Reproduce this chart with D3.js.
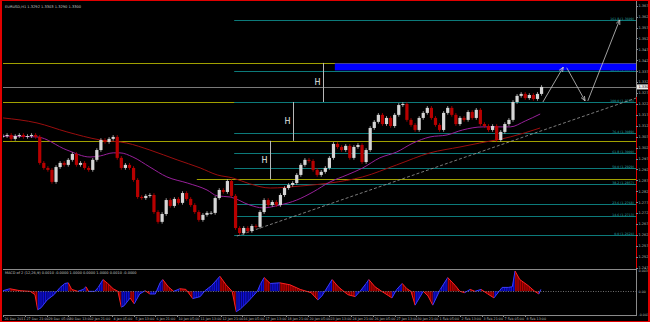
<!DOCTYPE html>
<html>
<head>
<meta charset="utf-8">
<script src="https://d3js.org/d3.v7.min.js"></script>
<style>
html, body { margin: 0; padding: 0; background: #000; }
svg { display: block; }
text { font-family: "DejaVu Sans", sans-serif; }
</style>
</head>
<body>
<svg id="chart" width="650" height="322"></svg>
<script>
// EURUSD H1 - closes read every 6 bars from 26 Dec 2011
const closeStep = 6;
const closes = [
	1.3077, 1.3082, 1.3064, 1.3077, 1.3082, 1.3073, 1.3077, 1.3082, 1.3073, 1.2954,
	1.2931, 1.2922, 1.2867, 1.2935, 1.2954, 1.2945, 1.2968, 1.2995, 1.2945, 1.2954,
	1.2931, 1.2922, 1.2968, 1.3013, 1.3059, 1.3050, 1.3064, 1.3073, 1.2977, 1.2931,
	1.2945, 1.2931, 1.2876, 1.2798, 1.2793, 1.2803, 1.2807, 1.2729, 1.2684, 1.2720,
	1.2784, 1.2757, 1.2789, 1.2771, 1.2816, 1.2789, 1.2761, 1.2729, 1.2693, 1.2716,
	1.2725, 1.2725, 1.2793, 1.2830, 1.2821, 1.2871, 1.2803, 1.2656, 1.2633, 1.2656,
	1.2642, 1.2665, 1.2661, 1.2729, 1.2784, 1.2761, 1.2775, 1.2761, 1.2807, 1.2839,
	1.2853, 1.2862, 1.2899, 1.2945, 1.2968, 1.2963, 1.2922, 1.2899, 1.2913, 1.2931,
	1.2977, 1.3041, 1.3027, 1.3013, 1.3032, 1.2977, 1.3027, 1.3036, 1.2958, 1.3013,
	1.3114, 1.3142, 1.3174, 1.3132, 1.3160, 1.3123, 1.3174, 1.3219, 1.3224, 1.3151,
	1.3128, 1.3105, 1.3160, 1.3183, 1.3206, 1.3160, 1.3128, 1.3105, 1.3183, 1.3206,
	1.3174, 1.3132, 1.3160, 1.3151, 1.3187, 1.3160, 1.3197, 1.3132, 1.3123, 1.3105,
	1.3123, 1.3059, 1.3096, 1.3132, 1.3151, 1.3233, 1.3261, 1.3270, 1.3251, 1.3265,
	1.3247, 1.3270, 1.3302
];

// moving averages (bar index, price)
const maFastBars = [0, 50, 94, 128, 143, 162, 172, 191, 216, 241, 271, 300, 315, 334, 363, 382, 407, 432, 456, 481, 506, 529, 554, 579, 603, 628, 653, 676, 706, 746, 768, 790];
const maFast = [1.3077, 1.3073, 1.3013, 1.2981, 1.2986, 1.3000, 1.3000, 1.2981, 1.2935, 1.2890, 1.2862, 1.2830, 1.2803, 1.2798, 1.2761, 1.2748, 1.2761, 1.2784, 1.2821, 1.2867, 1.2899, 1.2931, 1.2977, 1.3004, 1.3045, 1.3073, 1.3082, 1.3105, 1.3119, 1.3119, 1.3146, 1.3178];
const maSlowBars = [0, 50, 94, 143, 182, 216, 256, 290, 315, 338, 363, 393, 437, 481, 529, 579, 628, 672, 701, 746, 790];
const maSlow = [1.3160, 1.3137, 1.3096, 1.3059, 1.3045, 1.3013, 1.2968, 1.2931, 1.2899, 1.2885, 1.2858, 1.2839, 1.2848, 1.2862, 1.2890, 1.2945, 1.3000, 1.3027, 1.3045, 1.3073, 1.3114];

// MACD (bar index, value)
const macdBars = [0, 10, 25, 40, 47, 51, 56, 65, 75, 84, 91, 96, 101, 110, 118, 122, 126, 135, 140, 147, 154, 162, 169, 174, 178, 187, 193, 201, 209, 216, 224, 231, 235, 243, 251, 260, 269, 279, 290, 297, 307, 319, 328, 337, 343, 349, 360, 374, 379, 384, 393, 407, 422, 437, 453, 463, 469, 484, 493, 507, 518, 525, 534, 538, 547, 557, 572, 579, 587, 594, 600, 606, 618, 625, 632, 643, 654, 665, 672, 679, 687, 694, 703, 713, 722, 734, 743, 749, 753, 760, 772, 782, 788, 791];
const macdValues = [0.0001, 0.0004, 0.0001, 0.0000, -0.0005, -0.0028, -0.0025, -0.0013, -0.0005, 0.0006, 0.0012, 0.0013, 0.0003, 0.0000, 0.0003, 0.0007, 0.0000, 0.0000, 0.0006, 0.0018, 0.0012, 0.0004, 0.0000, -0.0024, -0.0022, -0.0010, -0.0019, -0.0004, 0.0001, -0.0004, -0.0004, 0.0013, 0.0018, 0.0007, 0.0000, 0.0004, 0.0003, -0.0011, -0.0008, 0.0001, 0.0009, 0.0023, 0.0010, 0.0000, -0.0031, -0.0027, -0.0016, 0.0000, 0.0012, 0.0021, 0.0012, 0.0013, 0.0010, 0.0003, -0.0002, -0.0013, -0.0007, 0.0018, 0.0007, -0.0005, -0.0008, 0.0000, 0.0012, 0.0018, 0.0007, 0.0000, -0.0010, 0.0003, 0.0012, 0.0004, 0.0000, -0.0021, 0.0000, -0.0007, -0.0021, 0.0003, 0.0021, 0.0009, 0.0000, -0.0002, 0.0003, 0.0000, 0.0003, -0.0004, -0.0010, 0.0006, 0.0006, 0.0007, 0.0031, 0.0018, 0.0009, 0.0000, -0.0004, 0.0003];

// axis labels
const priceTicks = [1.2474, 1.2524, 1.2574, 1.2624, 1.2674, 1.2724, 1.2774, 1.2824, 1.2874, 1.2924, 1.2974, 1.3024, 1.3074, 1.3124, 1.3174, 1.3224, 1.3274, 1.3324, 1.3374, 1.3424, 1.3474, 1.3524, 1.3574, 1.3624, 1.3674];
const macdTicks = [0.0031, 0.0000, -0.0036];
const macdTickLabels = ["0.0031", "0.00", "-0.0036"];
const dateLabelStep = 32;
const dateLabels = ["26 Dec 2011", "27 Dec 21:00", "29 Dec 05:00", "30 Dec 13:00", "2 Jan 21:00", "4 Jan 05:00", "5 Jan 13:00", "6 Jan 21:00", "10 Jan 05:00", "11 Jan 13:00", "12 Jan 21:00", "16 Jan 05:00", "17 Jan 13:00", "18 Jan 21:00", "20 Jan 05:00", "23 Jan 13:00", "24 Jan 21:00", "26 Jan 05:00", "27 Jan 13:00", "30 Jan 21:00", "1 Feb 05:00", "2 Feb 13:00", "3 Feb 21:00", "7 Feb 05:00", "8 Feb 13:00"];

// drawn objects
const fibLevels = [0, 14.6, 23.6, 38.2, 50, 61.8, 76.4, 100, 123.6, 161.8];
const fibLow = 1.2624;
const fibHigh = 1.3233;
const fibStartBar = 340;
const levelPrices = [1.3412, 1.3233, 1.3055, 1.2880];
const levelStartBars = [0, 0, 0, 285];
const zonePrices = [1.3412, 1.3380];
const zoneStartBar = 488;
const hBars = [471, 426, 393];
const hTops = [1.3412, 1.3233, 1.3055];
const hBottoms = [1.3233, 1.3055, 1.2880];
const trendBars = [344, 931];
const trendPrices = [1.2619, 1.3251];
const pathLegs = [
	[[794, 1.3233], [824, 1.3393]],
	[[829, 1.3390], [856, 1.3238]],
	[[860, 1.3238], [907, 1.3610]]
];
const lastPrice = 1.3302;
const title = "EURUSD,H1  1.3292 1.3303 1.3290 1.3300";
const macdTitle = "MACD of 2 (12,26,9) 0.0010 -0.0000 1.0000 0.0000 1.0000 0.0010 -0.0000";

const svg = d3.select("#chart");

//layout
const plotLeft = 3, plotRight = 636;
const mainTop = 3, mainBottom = 269;
const macdTop = 270, macdBottom = 315;

var x = d3.scaleLinear().domain([0, 930]).range([3, 635.4]);
var y = d3.scaleLinear().domain([1.2524, 1.3674]).range([256.8, 5.7]);
var yMacd = d3.scaleLinear().domain([-0.0036, 0.0031]).range([315, 271]);

svg.append("rect").attr("width", 650).attr("height", 322).attr("fill", "#000");

var defs = svg.append("defs");
defs.append("clipPath").attr("id", "mainClip")
	.append("rect").attr("x", plotLeft).attr("y", mainTop)
	.attr("width", plotRight - plotLeft).attr("height", mainBottom - mainTop);
defs.append("clipPath").attr("id", "macdClip")
	.append("rect").attr("x", plotLeft).attr("y", macdTop)
	.attr("width", plotRight - plotLeft).attr("height", macdBottom - macdTop);

defs.append("marker")
	.attr("id", "arrow")
	.attr("markerUnits", "userSpaceOnUse")
	.attr("viewBox", "0 -5 10 10")
	.attr("refX", 10)
	.attr("refY", 0)
	.attr("markerWidth", 5)
	.attr("markerHeight", 5)
	.attr("orient", "auto")
	.append("path")
	.attr("d", "M0,-4L10,0L0,4")
	.attr("fill", "none")
	.attr("stroke", "#c8c8c8")
	.attr("stroke-width", 1.5);

//stripes for the macd histogram
const stripe = (id, bg, fg) => {
	var p = defs.append("pattern").attr("id", id)
		.attr("patternUnits", "userSpaceOnUse")
		.attr("width", 1.8).attr("height", 4);
	p.append("rect").attr("width", 1.8).attr("height", 4).attr("fill", bg);
	p.append("rect").attr("width", 1.1).attr("height", 4).attr("fill", fg);
};
stripe("stripeRed", "#4a0000", "#c00000");
stripe("stripeBlue", "#00005a", "#1010e0");

var main = svg.append("g").attr("clip-path", "url(#mainClip)");

//horizontal levels
levelPrices.forEach((p, i) => {
	main.append("line")
		.attr("x1", x(levelStartBars[i])).attr("x2", plotRight)
		.attr("y1", Math.round(y(p)) + 0.5).attr("y2", Math.round(y(p)) + 0.5)
		.attr("stroke", "#a0a000").attr("stroke-width", 1);
});

//fibonacci
fibLevels.forEach((lv) => {
	var p = fibLow + (fibHigh - fibLow) * lv / 100;
	var yy = Math.round(y(p)) + 0.5;
	main.append("line")
		.attr("x1", x(fibStartBar)).attr("x2", plotRight)
		.attr("y1", yy).attr("y2", yy)
		.attr("stroke", "#0c7a7a").attr("stroke-width", 1);
	main.append("text")
		.attr("x", plotRight - 2).attr("y", yy - 1)
		.attr("text-anchor", "end")
		.attr("font-size", 3.2)
		.attr("fill", "#2aa8a8")
		.text(lv.toFixed(1) + " (" + p.toFixed(4) + ")");
});

//blue zone
main.append("rect")
	.attr("x", x(zoneStartBar)).attr("y", y(zonePrices[0]) + 0.5)
	.attr("width", plotRight - x(zoneStartBar))
	.attr("height", y(zonePrices[1]) - y(zonePrices[0]))
	.attr("fill", "#0000ff");

//last price line
main.append("line")
	.attr("x1", plotLeft).attr("x2", plotRight)
	.attr("y1", Math.round(y(lastPrice)) + 0.5).attr("y2", Math.round(y(lastPrice)) + 0.5)
	.attr("stroke", "#7a7a7a").attr("stroke-width", 1);

//moving averages
var maLine = d3.line().curve(d3.curveMonotoneX);
main.append("path")
	.attr("d", maLine(maSlowBars.map((b, i) => [x(b), y(maSlow[i])])))
	.attr("fill", "none").attr("stroke", "#9a0e0e").attr("stroke-width", 1);
main.append("path")
	.attr("d", maLine(maFastBars.map((b, i) => [x(b), y(maFast[i])])))
	.attr("fill", "none").attr("stroke", "#98209a").attr("stroke-width", 1);

//trendline
main.append("line")
	.attr("x1", x(trendBars[0])).attr("y1", y(trendPrices[0]))
	.attr("x2", x(trendBars[1])).attr("y2", y(trendPrices[1]))
	.attr("stroke", "#9a9a9a").attr("stroke-width", 0.8)
	.attr("stroke-dasharray", "3,2");

//candles
var candles = closes.map((c, i) => {
	var o = i === 0 ? c : closes[i - 1];
	return { bar: i * closeStep, open: o, close: c };
});
var candle = main.append("g").selectAll("g")
	.data(candles)
	.enter()
	.append("g");
candle.append("line")
	.attr("x1", (d) => x(d.bar)).attr("x2", (d) => x(d.bar))
	.attr("y1", (d) => y(Math.max(d.open, d.close)) - 1.8)
	.attr("y2", (d) => y(Math.min(d.open, d.close)) + 1.8)
	.attr("stroke", (d) => d.close >= d.open ? "#bdbdbd" : "#c00000")
	.attr("stroke-width", 0.8);
candle.append("rect")
	.attr("x", (d) => x(d.bar) - 1.6)
	.attr("width", 3.2)
	.attr("y", (d) => y(Math.max(d.open, d.close)))
	.attr("height", (d) => Math.max(0.8, Math.abs(y(d.open) - y(d.close))))
	.attr("fill", (d) => d.close >= d.open ? "#d6d6d6" : "#b80000");

//H markers
hBars.forEach((b, i) => {
	var xx = Math.round(x(b)) + 0.5;
	main.append("line")
		.attr("x1", xx).attr("x2", xx)
		.attr("y1", y(hTops[i])).attr("y2", y(hBottoms[i]))
		.attr("stroke", "#b8b8b8").attr("stroke-width", 1);
	main.append("text")
		.attr("x", xx - 3).attr("y", (y(hTops[i]) + y(hBottoms[i])) / 2 + 3)
		.attr("text-anchor", "end")
		.attr("font-size", 8)
		.attr("fill", "#e8e8e8")
		.text("H");
});

//projected path
pathLegs.forEach((leg) => {
	main.append("line")
		.attr("x1", x(leg[0][0])).attr("y1", y(leg[0][1]))
		.attr("x2", x(leg[1][0])).attr("y2", y(leg[1][1]))
		.attr("stroke", "#c8c8c8").attr("stroke-width", 0.8)
		.attr("marker-end", "url(#arrow)");
});

//title
svg.append("text")
	.attr("x", 5).attr("y", 8)
	.attr("font-size", 3.6)
	.attr("fill", "#c8c8c8")
	.text(title);

//MACD window
var macd = svg.append("g").attr("clip-path", "url(#macdClip)");
var z = yMacd(0);
for (let i = 0; i < macdBars.length - 1; i++) {
	var x0 = x(macdBars[i]), x1 = x(macdBars[i + 1]);
	var v0 = macdValues[i], v1 = macdValues[i + 1];
	var up = v1 >= v0;
	macd.append("path")
		.attr("d", "M" + x0 + "," + z + "L" + x0 + "," + yMacd(v0) + "L" + x1 + "," + yMacd(v1) + "L" + x1 + "," + z + "Z")
		.attr("fill", up ? "url(#stripeBlue)" : "url(#stripeRed)");
	macd.append("line")
		.attr("x1", x0).attr("y1", yMacd(v0))
		.attr("x2", x1).attr("y2", yMacd(v1))
		.attr("stroke", up ? "#3a3aff" : "#ff2020")
		.attr("stroke-width", 1);
}
svg.append("line")
	.attr("x1", plotLeft).attr("x2", plotRight)
	.attr("y1", Math.round(z) + 0.5).attr("y2", Math.round(z) + 0.5)
	.attr("stroke", "#8a8a8a").attr("stroke-width", 0.8)
	.attr("stroke-dasharray", "1,1.5");
svg.append("text")
	.attr("x", 5).attr("y", 274)
	.attr("font-size", 3.5)
	.attr("fill", "#c8c8c8")
	.text(macdTitle);

//frames
svg.append("line")
	.attr("x1", plotLeft).attr("x2", plotRight)
	.attr("y1", mainBottom + 0.5).attr("y2", mainBottom + 0.5)
	.attr("stroke", "#8a8a8a");
svg.append("line")
	.attr("x1", plotLeft).attr("x2", plotRight)
	.attr("y1", macdBottom + 0.5).attr("y2", macdBottom + 0.5)
	.attr("stroke", "#8a8a8a");
svg.append("line")
	.attr("x1", plotRight + 0.5).attr("x2", plotRight + 0.5)
	.attr("y1", 0).attr("y2", macdBottom + 1)
	.attr("stroke", "#8a8a8a");
svg.append("line")
	.attr("x1", plotRight + 0.5).attr("x2", plotRight + 0.5)
	.attr("y1", 97).attr("y2", mainBottom)
	.attr("stroke", "#e00000");

//price axis
priceTicks.forEach((p) => {
	var yy = y(p);
	if (yy > mainBottom) return;
	svg.append("line")
		.attr("x1", plotRight).attr("x2", plotRight + 2)
		.attr("y1", Math.round(yy) + 0.5).attr("y2", Math.round(yy) + 0.5)
		.attr("stroke", "#8a8a8a");
	svg.append("text")
		.attr("x", plotRight + 2.5).attr("y", yy + 1.3)
		.attr("font-size", 3.5)
		.attr("fill", "#bcbcbc")
		.text(p.toFixed(4));
});
svg.append("rect")
	.attr("x", plotRight + 1).attr("y", y(lastPrice) - 2.5)
	.attr("width", 11).attr("height", 5)
	.attr("fill", "#e8e8e8");
svg.append("text")
	.attr("x", plotRight + 2.5).attr("y", y(lastPrice) + 1.3)
	.attr("font-size", 3.5)
	.attr("fill", "#000")
	.text(lastPrice.toFixed(4));

//macd axis
macdTicks.forEach((v, i) => {
	svg.append("text")
		.attr("x", plotRight + 2.5).attr("y", yMacd(v) + 1.3)
		.attr("font-size", 3.3)
		.attr("fill", "#bcbcbc")
		.text(macdTickLabels[i]);
});

//date axis
dateLabels.forEach((t, i) => {
	var xx = Math.round(x(i * dateLabelStep)) + 0.5;
	svg.append("line")
		.attr("x1", xx).attr("x2", xx)
		.attr("y1", macdBottom).attr("y2", macdBottom + 2)
		.attr("stroke", "#8a8a8a");
	svg.append("text")
		.attr("x", xx + 1).attr("y", 319.5)
		.attr("font-size", 3.3)
		.attr("fill", "#bcbcbc")
		.text(t);
});

//red window border
svg.append("rect").attr("x", 0).attr("y", 0).attr("width", 2).attr("height", 322).attr("fill", "#e00000");
svg.append("rect").attr("x", 0).attr("y", 0).attr("width", 650).attr("height", 1).attr("fill", "#e00000");
svg.append("rect").attr("x", 648).attr("y", 0).attr("width", 2).attr("height", 322).attr("fill", "#e00000");
svg.append("rect").attr("x", 0).attr("y", 321).attr("width", 650).attr("height", 1).attr("fill", "#e00000");
</script>
</body>
</html>
